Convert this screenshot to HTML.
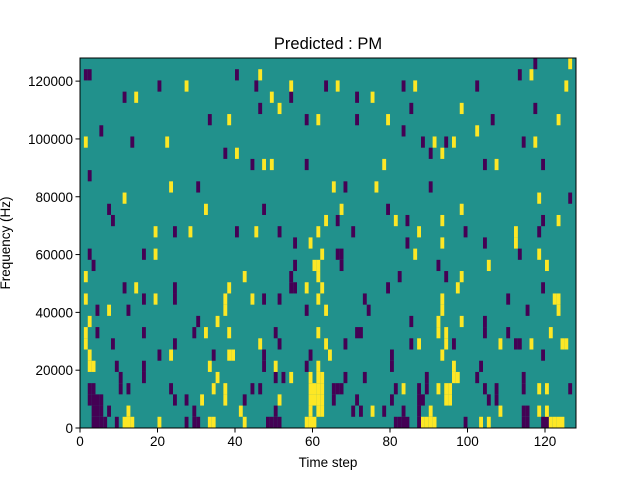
<!DOCTYPE html>
<html><head><meta charset="utf-8"><style>
html,body{margin:0;padding:0;background:#fff;}
svg{display:block;font-family:"Liberation Sans",DejaVu Sans,sans-serif;}
</style></head><body>
<svg id="chart" width="640" height="480" viewBox="0 0 640 480" xmlns="http://www.w3.org/2000/svg">
<rect width="640" height="480" fill="#fff"/>
<text x="328" y="49" font-size="16.5" text-anchor="middle" fill="#000">Predicted : PM</text>
<g id="cells"></g>
<rect x="80" y="58" width="496" height="370" fill="none" stroke="#000" stroke-width="1"/>
<g id="xticks"></g>
<g id="yticks"></g>
<text x="328" y="467" font-size="13.5" text-anchor="middle">Time step</text>
<text transform="translate(10,243) rotate(-90)" font-size="13.5" text-anchor="middle">Frequency (Hz)</text>
</svg>
<script>
const nTimeSteps = 128;
const nFreqBins = 33;
const freqMax = 128000;
const xTickLabels = [0, 20, 40, 60, 80, 100, 120];
const yTickLabels = [0, 20000, 40000, 60000, 80000, 100000, 120000];
// low (purple) and high (yellow) cells, by frequency row from top (row 0 = highest bin)
const lowCols = [
[117],[1,2,40,113],[20,45,63,83,102],[11,54,71],[46,85,117],[33,58,71,106],[5,83],[13,88,94,114],
[37,90],[44,58,104,119],[2],[30,68,90],[126],[7,47,79],[8,66,84,119],[24,40,51,70,99,118],
[55,84,104],[2,16,66,67,113],[3,55,67,92],[54,82,94],[11,24,54,55,79,119],[16,24,47,51,73,110],
[4,12,58,74,115],[30,85,104],[4,16,29,50,71,72,104,110],[8,24,51,68,85,96,112,113],
[20,34,47,59,80,119],[9,16,47,58,80,103],[10,16,50,52,68,73,89,102,114],
[2,3,10,12,23,44,46,65,66,67,81,87,89,104,107,114,126],
[2,3,4,5,24,27,42,65,71,80,87,88,105,107],
[3,4,5,7,29,50,70,72,78,83,87,114,115],
[3,4,5,6,9,27,29,30,48,49,50,51,81,82,83,84,87,99,114,115,119,120]
];
const highCols = [
[126],[46,116],[27,54,66,86,125],[14,49,75],[51,98],[38,61,79,123],[102],[1,22,91,96,117],
[40,93],[47,49,78,107],[],[23,65,76],[11,118],[32,67,98],[63,81,93,123],[19,28,45,61,87,112],
[59,93,112],[19,62,86,118],[60,61,105,120],[1,42,61,98],[14,38,58,62,97],[1,19,37,44,61,93,122,123],
[7,37,63,93,123],[2,35,92,98],[1,32,38,61,92,94,121],[1,46,63,87,94,108,116,124,125],
[2,23,38,39,64,93],[2,3,33,50,61,96],[35,54,59,61,62,96,97],
[34,37,59,60,61,62,83,92,94,95,118,120],
[31,37,51,59,60,61,62,94,95],
[12,41,59,61,62,75,90,108,118,120],
[11,12,13,20,33,34,42,58,59,60,88,89,90,91,103,105,121,122,123,124]
];
const NS = "http://www.w3.org/2000/svg";
const X0 = 80, X1 = 576, Y0 = 428, Y1 = 58;
function xScale(t){ return X0 + t * (X1 - X0) / nTimeSteps; }
function yScale(f){ return Y0 - f * (Y0 - Y1) / freqMax; }
const binH = freqMax / nFreqBins;
const cells = document.getElementById('cells');
const bg = document.createElementNS(NS, 'rect');
bg.setAttribute('x', X0); bg.setAttribute('y', Y1);
bg.setAttribute('width', X1 - X0); bg.setAttribute('height', Y0 - Y1);
bg.setAttribute('fill', '#21918c');


cells.appendChild(bg);
function drawCells(list, color, name){
  list.forEach(function(cols, r){
    const bin = nFreqBins - 1 - r;
    cols.forEach(function(c){
      const rc = document.createElementNS(NS, 'rect');
      const x = xScale(c), xe = xScale(c + 1);
      const yt = yScale((bin + 1) * binH), yb = yScale(bin * binH);
      rc.setAttribute('x', x); rc.setAttribute('y', yt);
      rc.setAttribute('width', xe - x); rc.setAttribute('height', yb - yt);
      rc.setAttribute('fill', color);
      
      
      cells.appendChild(rc);
    });
  });
}
drawCells(lowCols, '#440154', 'cell-low');
drawCells(highCols, '#fde725', 'cell-high');
const xg = document.getElementById('xticks');
xTickLabels.forEach(function(v){
  const x = xScale(v);
  const l = document.createElementNS(NS, 'line');
  l.setAttribute('x1', x); l.setAttribute('x2', x); l.setAttribute('y1', Y0); l.setAttribute('y2', Y0 + 4.5);
  l.setAttribute('stroke', '#000');
  
  
  xg.appendChild(l);
  const t = document.createElementNS(NS, 'text');
  t.setAttribute('x', x); t.setAttribute('y', Y0 + 18); t.setAttribute('font-size', '13.5'); t.setAttribute('text-anchor', 'middle');
  t.textContent = v;
  
  
  xg.appendChild(t);
});
const yg = document.getElementById('yticks');
yTickLabels.forEach(function(v){
  const y = yScale(v);
  const l = document.createElementNS(NS, 'line');
  l.setAttribute('x1', X0 - 4.5); l.setAttribute('x2', X0); l.setAttribute('y1', y); l.setAttribute('y2', y);
  l.setAttribute('stroke', '#000');
  
  
  yg.appendChild(l);
  const t = document.createElementNS(NS, 'text');
  t.setAttribute('x', X0 - 7); t.setAttribute('y', y + 5); t.setAttribute('font-size', '13.5'); t.setAttribute('text-anchor', 'end');
  t.textContent = v;
  
  
  yg.appendChild(t);
});
</script>
</body></html>
